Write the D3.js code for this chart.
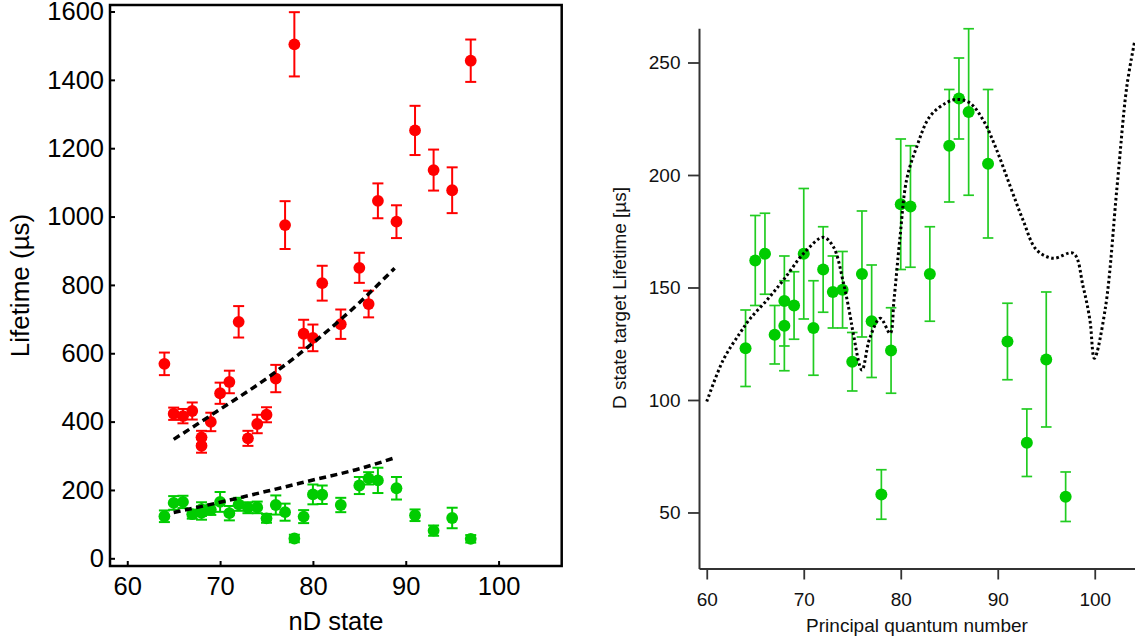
<!DOCTYPE html>
<html><head><meta charset="utf-8">
<script src="https://cdn.jsdelivr.net/npm/d3@7"></script>
<style>
html,body{margin:0;padding:0;background:#fff;}
svg{display:block;font-family:"Liberation Sans",Arial,Helvetica,sans-serif;}
</style></head><body>
<svg id="chart" width="1135" height="643"></svg>
<script>
// ---------- data ----------
const nStates = [64,65,66,67,68,68,69,70,71,72,73,74,75,76,77,78,79,80,81,83,85,86,87,89,91,93,95,97];
const sLifetime = [569,423,416,431,354,329,399,483,516,692,351,393,420,526,975,1504,657,645,805,685,850,744,1046,985,1252,1136,1077,1456];
const sError    = [33,18,21,25,19,20,27,31,33,46,22,27,22,40,70,94,41,39,51,43,44,39,51,48,72,60,67,62];
const dLifetime = [123,162,165,129,144,133,142,165,132,158,148,149,117,156,135,58,122,187,186,156,213,234,228,205,126,81,118,57];
const dError    = [17,20,18,13,20,20,15,29,21,19,16,17,13,28,25,11,19,29,27,21,25,18,37,33,17,15,30,11];

const fitN     = [65,70,75,80,85,88.8];
const fitRed   = [348,436,526,630,748,849];
const fitGreen = [134,164,196,229,262,294];

const curveN = [60,61.7,63.4,64.5,66.2,67.9,70,72,73.05,74.1,74.8,75.1,76,76.8,77.9,78.9,79.3,79.93,80.6,81.65,83,84.7,85.8,87.1,88.5,89.9,91.3,92.6,94,95.7,97.8,98.8,99.5,99.96,101.1,102.3,103.3,104.1];
const curveV = [99.3,117.8,129.6,136.3,144.4,153.3,165.2,172.3,168.1,151.9,137,129.6,113.3,127.4,136.3,129.6,144.4,172.6,197.8,212.6,226,232.1,233.6,232.1,224.4,211,194.8,180,166.7,163,165.2,150.4,135.6,118.5,141,194.8,239.2,259];

const leftXTicks  = [60,70,80,90,100];
const leftYTicks  = [0,200,400,600,800,1000,1200,1400,1600];
const rightXTicks = [60,70,80,90,100];
const rightYTicks = [50,100,150,200,250];

// ---------- setup ----------
const svg = d3.select("#chart");
const RED = "#ff0000", GREEN = "#00cc00", GREEN_BAR = "#22cc22";
const fmt = d3.format("d");

// ===== Left panel =====
const xL = d3.scaleLinear().domain([58.14, 106.8]).range([110, 561.7]);
const yL = d3.scaleLinear().domain([-22.5, 1619]).range([566, 5]);
const gL = svg.append("g");

const axL = gL.append("g").attr("transform","translate(110,0)")
  .call(d3.axisLeft(yL).tickValues(leftYTicks).tickFormat(fmt).tickSizeInner(-5).tickSizeOuter(0).tickPadding(6));
const axB = gL.append("g").attr("transform","translate(0,566)")
  .call(d3.axisBottom(xL).tickValues(leftXTicks).tickFormat(fmt).tickSizeInner(-5).tickSizeOuter(0).tickPadding(11));
[axL, axB].forEach(a=>{
  a.select(".domain").remove();
  a.selectAll("line").attr("stroke","#000").attr("stroke-width",2);
  a.selectAll("text").attr("font-size",25.5).attr("fill","#000").attr("font-family","Liberation Sans, Arial, sans-serif");
});
gL.append("rect").attr("x",110).attr("y",5).attr("width",451.7).attr("height",561)
  .attr("fill","none").attr("stroke","#000").attr("stroke-width",2.5);

function errorBars(g, xs, x, y, vals, errs, color, sw, cap) {
  const eb = g.append("g").attr("stroke",color).attr("stroke-width",sw).attr("fill","none");
  vals.forEach((v,i)=>{
    const cx = x(xs[i]);
    const y1 = y(v+errs[i]), y2 = y(v-errs[i]);
    eb.append("line").attr("x1",cx).attr("x2",cx).attr("y1",y1).attr("y2",y2);
    eb.append("line").attr("x1",cx-cap).attr("x2",cx+cap).attr("y1",y1).attr("y2",y1);
    eb.append("line").attr("x1",cx-cap).attr("x2",cx+cap).attr("y1",y2).attr("y2",y2);
  });
}
function dots(g, xs, vals, x, y, color, r) {
  g.append("g").selectAll("circle").data(vals).join("circle")
    .attr("cx",(d,i)=>x(xs[i])).attr("cy",d=>y(d)).attr("r",r).attr("fill",color);
}

errorBars(gL, nStates, xL, yL, sLifetime, sError, RED, 2, 5.5);
dots(gL, nStates, sLifetime, xL, yL, RED, 5.9);
errorBars(gL, nStates, xL, yL, dLifetime, dError, GREEN, 2, 5.5);
dots(gL, nStates, dLifetime, xL, yL, GREEN, 5.9);

const fitLine = d3.line().x(d=>xL(d[0])).y(d=>yL(d[1])).curve(d3.curveMonotoneX);
[fitRed, fitGreen].forEach(arr=>{
  gL.append("path").attr("d", fitLine(fitN.map((n,i)=>[n,arr[i]])))
    .attr("fill","none").attr("stroke","#000").attr("stroke-width",3.5).attr("stroke-dasharray","7,4.5");
});

gL.append("text").attr("x",336).attr("y",629.5).attr("text-anchor","middle")
  .attr("font-size",25.5).text("nD state");
gL.append("text").attr("transform","translate(29,285.5) rotate(-90)").attr("text-anchor","middle")
  .attr("font-size",26).text("Lifetime (µs)");

// ===== Right panel =====
const xR = d3.scaleLinear().domain([59.2, 104.15]).range([699, 1135]);
const yR = d3.scaleLinear().domain([25.1, 265.2]).range([568.5, 28.3]);
const gR = svg.append("g");

const arL = gR.append("g").attr("transform","translate(699,0)")
  .call(d3.axisLeft(yR).tickValues(rightYTicks).tickFormat(fmt).tickSizeInner(11).tickSizeOuter(0).tickPadding(7.5));
const arB = gR.append("g").attr("transform","translate(0,568.5)")
  .call(d3.axisBottom(xR).tickValues(rightXTicks).tickFormat(fmt).tickSizeInner(11).tickSizeOuter(0).tickPadding(13.5));
[arL, arB].forEach(a=>{
  a.select(".domain").attr("stroke","#333").attr("stroke-width",2);
  a.selectAll(".tick line").attr("stroke","#333").attr("stroke-width",1.8);
  a.selectAll("text").attr("font-size",19).attr("fill","#111").attr("font-family","Liberation Sans, Arial, sans-serif");
});

errorBars(gR, nStates, xR, yR, dLifetime, dError, GREEN_BAR, 1.7, 5.3);
dots(gR, nStates, dLifetime, xR, yR, GREEN, 6);

const curveLine = d3.line().x(d=>xR(d[0])).y(d=>yR(d[1])).curve(d3.curveCatmullRom.alpha(0.5));
gR.append("path").attr("d", curveLine(curveN.map((n,i)=>[n,curveV[i]])))
  .attr("fill","none").attr("stroke","#000").attr("stroke-width",3).attr("stroke-dasharray","2.6,2.6");

gR.append("text").attr("x",917).attr("y",632).attr("text-anchor","middle")
  .attr("font-size",19).attr("fill","#111").text("Principal quantum number");
gR.append("text").attr("transform","translate(626,298) rotate(-90)").attr("text-anchor","middle")
  .attr("font-size",19).attr("fill","#111").text("D state target Lifetime [µs]");
</script>
</body></html>
